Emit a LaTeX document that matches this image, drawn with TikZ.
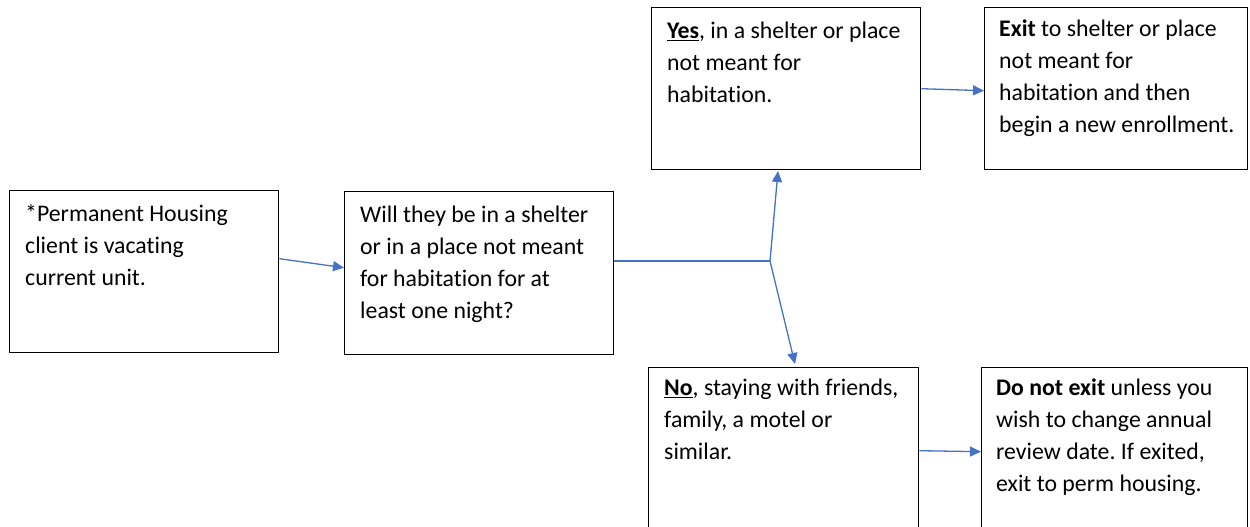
\documentclass[tikz,border=0pt]{standalone}
\usepackage{fontspec}
\setmainfont[RawFeature=-liga]{Carlito}
\usetikzlibrary{arrows.meta,calc}
\definecolor{arrowblue}{HTML}{4472C4}
\frenchspacing
\begin{document}
\begin{tikzpicture}[x=1pt,y=-1pt,
  box/.style={draw=black,line width=1.4pt,anchor=north west,inner sep=0pt,fill=white},
  txt/.style={anchor=north west,inner sep=0pt,align=left,font=\fontsize{23.8}{32}\selectfont\frenchspacing,text=black},
  conn/.style={draw=arrowblue,line width=1.3pt},
  arr/.style={conn,-{Triangle[length=11pt,width=10pt]}}]
\useasboundingbox (0,0) rectangle (1250,527);
\clip (0,0) rectangle (1250,527);
% boxes
\node[box,minimum width=269pt,minimum height=162pt] (A) at (9,190) {};
\node[box,minimum width=269pt,minimum height=163pt] (B) at (344,191) {};
\node[box,minimum width=269pt,minimum height=162pt] (Y) at (651,7) {};
\node[box,minimum width=263pt,minimum height=162pt] (E) at (984,7) {};
\node[box,minimum width=270pt,minimum height=170pt] (N) at (648,367) {};
\node[box,minimum width=266pt,minimum height=170pt] (D) at (981,367) {};
% texts
\node[txt] (tA) at ($(A.north west)+(16,8.6)$) {\strut *Permanent Housing\\client is vacating\\current unit.};
\node[txt] (tB) at ($(B.north west)+(16,8.6)$) {\strut Will they be in a shelter\\or in a place not meant\\for habitation for at\\least one night?};
\node[txt] (tY) at ($(Y.north west)+(16,8.6)$) {\strut \underline{\textbf{Yes}}, in a shelter or place\\not meant for\\habitation.};
\node[txt] (tE) at ($(E.north west)+(15,6.6)$) {\strut \textbf{Exit} to shelter or place\\not meant for\\habitation and then\\begin a new enrollment.};
\node[txt] (tN) at ($(N.north west)+(16,5.6)$) {\strut \underline{\textbf{No}}, staying with friends,\\family, a motel or\\similar.};
\node[txt] (tD) at ($(D.north west)+(15,5.6)$) {\strut \textbf{Do not exit} unless you\\wish to change annual\\review date. If exited,\\exit to perm housing.};
% connectors
\coordinate (fork) at (770,261);
\coordinate (ytip) at (778,171);
\coordinate (ntip) at (795,364);
\draw[arr] ([yshift=13pt]A.east) -- ([yshift=5.5pt]B.west);
\draw[conn] (B.east |- fork) -- (fork);
\draw[arr] (fork) -- (ytip);
\draw[arr] (fork) -- (ntip);
\draw[arr] (Y.east) -- ([yshift=-2pt]E.west);
\draw[arr] ([yshift=2pt]N.east) -- ([yshift=1pt]D.west);
\end{tikzpicture}
\end{document}
